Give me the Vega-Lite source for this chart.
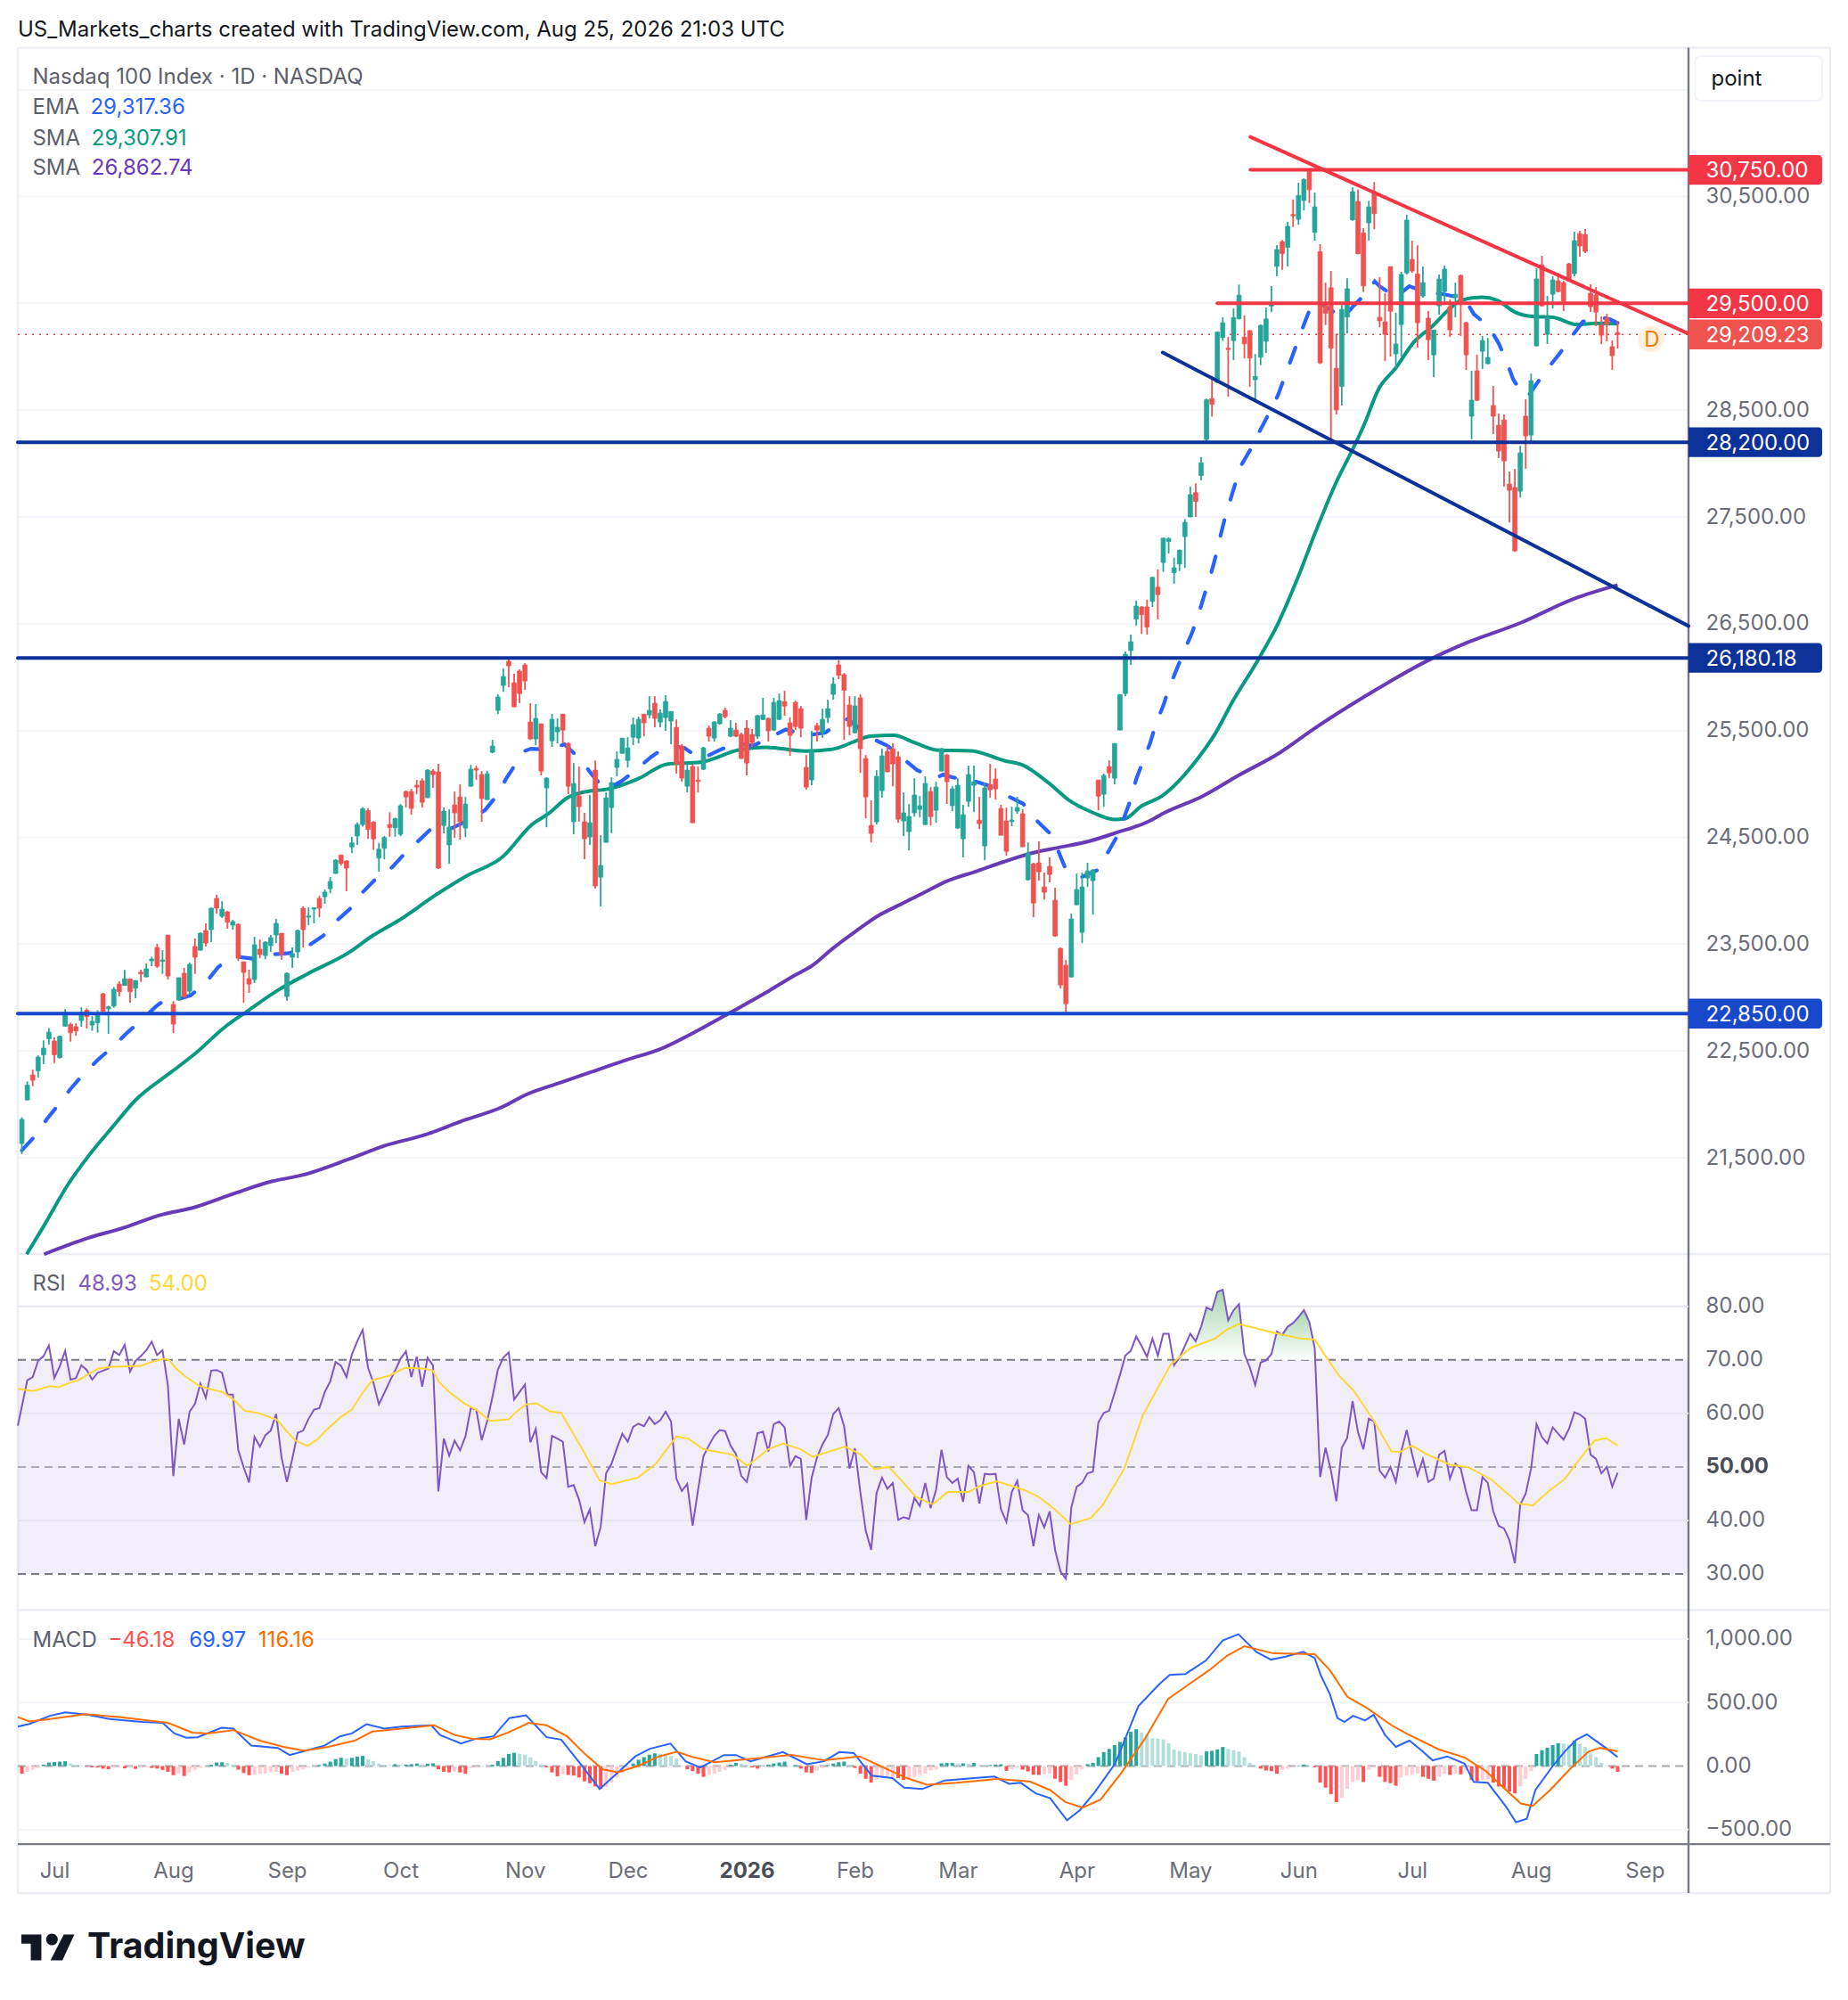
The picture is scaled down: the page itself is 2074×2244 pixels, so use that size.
{
"$schema":"https://vega.github.io/schema/vega-lite/v6.json",
"autosize":{"type":"none"},
"padding":{"left":0,"top":0,"right":179,"bottom":175},
"width":1895,
"height":2069,
"background":"white",
"config":{"view":{"stroke":null},"text":{"font":"Inter"}},
"datasets":{
"candles":[
{"k":-6,"o":21633,"h":21880,"l":21534,"c":21859},{"k":-5,"o":22042,"h":22215,"l":22035,"c":22181},{"k":-4,"o":22276,"h":22326,"l":22170,"c":22226},{"k":-3,"o":22315,"h":22459,"l":22251,"c":22443},{"k":-2,"o":22465,"h":22599,"l":22376,"c":22526},{"k":-1,"o":22615,"h":22715,"l":22560,"c":22676},
{"k":0,"o":22593,"h":22626,"l":22387,"c":22465},{"k":1,"o":22437,"h":22643,"l":22430,"c":22637},{"k":2,"o":22732,"h":22893,"l":22727,"c":22860},{"k":3,"o":22749,"h":22765,"l":22587,"c":22671},{"k":4,"o":22727,"h":22760,"l":22643,"c":22688},{"k":5,"o":22785,"h":22910,"l":22727,"c":22860},{"k":6,"o":22882,"h":22899,"l":22710,"c":22821},{"k":7,"o":22743,"h":22827,"l":22688,"c":22777},{"k":8,"o":22765,"h":22882,"l":22671,"c":22855},{"k":9,"o":23035,"h":23044,"l":22868,"c":22871},
{"k":10,"o":22896,"h":22924,"l":22660,"c":22913},{"k":11,"o":22921,"h":23099,"l":22905,"c":23077},{"k":12,"o":23127,"h":23152,"l":23010,"c":23055},{"k":13,"o":23113,"h":23258,"l":23110,"c":23177},{"k":14,"o":23174,"h":23180,"l":22952,"c":23055},{"k":15,"o":23088,"h":23161,"l":22994,"c":23160},{"k":16,"o":23238,"h":23261,"l":23147,"c":23222},{"k":17,"o":23194,"h":23319,"l":23188,"c":23269},{"k":18,"o":23344,"h":23383,"l":23294,"c":23361},{"k":19,"o":23469,"h":23503,"l":23277,"c":23294},
{"k":20,"o":23339,"h":23444,"l":23222,"c":23352},{"k":21,"o":23585,"h":23586,"l":23169,"c":23202},{"k":22,"o":22935,"h":22966,"l":22668,"c":22752},{"k":23,"o":22977,"h":23188,"l":22971,"c":23186},{"k":24,"o":23227,"h":23277,"l":23000,"c":23005},{"k":25,"o":23060,"h":23327,"l":23027,"c":23311},{"k":26,"o":23478,"h":23553,"l":23222,"c":23378},{"k":27,"o":23444,"h":23611,"l":23439,"c":23603},{"k":28,"o":23628,"h":23695,"l":23478,"c":23511},{"k":29,"o":23636,"h":23842,"l":23519,"c":23837},
{"k":30,"o":23928,"h":23962,"l":23786,"c":23837},{"k":31,"o":23761,"h":23903,"l":23745,"c":23828},{"k":32,"o":23803,"h":23812,"l":23645,"c":23706},{"k":33,"o":23678,"h":23728,"l":23636,"c":23711},{"k":34,"o":23686,"h":23695,"l":23344,"c":23369},{"k":35,"o":23335,"h":23336,"l":22952,"c":23236},{"k":36,"o":23177,"h":23261,"l":23044,"c":23127},{"k":37,"o":23169,"h":23570,"l":23136,"c":23494},{"k":38,"o":23453,"h":23544,"l":23369,"c":23403},{"k":39,"o":23394,"h":23528,"l":23361,"c":23519},
{"k":40,"o":23486,"h":23586,"l":23428,"c":23561},{"k":41,"o":23586,"h":23736,"l":23511,"c":23695},{"k":42,"o":23602,"h":23603,"l":23353,"c":23403},{"k":43,"o":23010,"h":23236,"l":22969,"c":23227},{"k":44,"o":23378,"h":23469,"l":23277,"c":23411},{"k":45,"o":23428,"h":23636,"l":23369,"c":23628},{"k":46,"o":23837,"h":23853,"l":23469,"c":23636},{"k":47,"o":23753,"h":23845,"l":23678,"c":23764},{"k":48,"o":23828,"h":23842,"l":23695,"c":23841},{"k":49,"o":23928,"h":23953,"l":23753,"c":23837},
{"k":50,"o":23945,"h":24012,"l":23878,"c":23987},{"k":51,"o":24020,"h":24129,"l":23978,"c":24087},{"k":52,"o":24162,"h":24296,"l":24160,"c":24287},{"k":53,"o":24333,"h":24340,"l":24237,"c":24256},{"k":54,"o":24279,"h":24287,"l":23995,"c":24212},{"k":55,"o":24410,"h":24505,"l":24352,"c":24448},{"k":56,"o":24513,"h":24640,"l":24430,"c":24620},{"k":57,"o":24620,"h":24781,"l":24601,"c":24766},{"k":58,"o":24751,"h":24773,"l":24486,"c":24574},{"k":59,"o":24643,"h":24651,"l":24383,"c":24486},
{"k":60,"o":24306,"h":24448,"l":24180,"c":24390},{"k":61,"o":24398,"h":24513,"l":24295,"c":24498},{"k":62,"o":24620,"h":24735,"l":24505,"c":24593},{"k":63,"o":24590,"h":24684,"l":24506,"c":24676},{"k":64,"o":24529,"h":24812,"l":24512,"c":24796},{"k":65,"o":24929,"h":24938,"l":24779,"c":24879},{"k":66,"o":24929,"h":24954,"l":24712,"c":24771},{"k":67,"o":24988,"h":25038,"l":24904,"c":24971},{"k":68,"o":25030,"h":25052,"l":24779,"c":24829},{"k":69,"o":24871,"h":25138,"l":24870,"c":25130},
{"k":70,"o":25121,"h":25138,"l":24963,"c":25088},{"k":71,"o":25113,"h":25188,"l":24203,"c":24212},{"k":72,"o":24612,"h":24779,"l":24537,"c":24746},{"k":73,"o":24429,"h":24762,"l":24253,"c":24595},{"k":74,"o":24804,"h":24929,"l":24495,"c":24729},{"k":75,"o":24879,"h":24996,"l":24479,"c":24646},{"k":76,"o":24587,"h":24879,"l":24504,"c":24812},{"k":77,"o":24979,"h":25180,"l":24975,"c":25138},{"k":78,"o":25146,"h":25171,"l":25038,"c":25130},{"k":79,"o":25088,"h":25121,"l":24646,"c":24863},
{"k":80,"o":24854,"h":25121,"l":24850,"c":25096},{"k":81,"o":25297,"h":25413,"l":25288,"c":25355},{"k":82,"o":25689,"h":25839,"l":25655,"c":25814},{"k":83,"o":25923,"h":26081,"l":25864,"c":26006},{"k":84,"o":26148,"h":26181,"l":25906,"c":26106},{"k":85,"o":25948,"h":26031,"l":25720,"c":25722},{"k":86,"o":26056,"h":26073,"l":25756,"c":25847},{"k":87,"o":26114,"h":26131,"l":25881,"c":25964},{"k":88,"o":25580,"h":25756,"l":25413,"c":25422},{"k":89,"o":25422,"h":25747,"l":25363,"c":25614},
{"k":90,"o":25563,"h":25564,"l":25080,"c":25121},{"k":91,"o":24963,"h":25063,"l":24595,"c":25055},{"k":92,"o":25405,"h":25655,"l":25347,"c":25605},{"k":93,"o":25489,"h":25614,"l":25380,"c":25530},{"k":94,"o":25654,"h":25655,"l":25380,"c":25505},{"k":95,"o":25380,"h":25388,"l":24904,"c":24979},{"k":96,"o":24646,"h":25196,"l":24529,"c":25004},{"k":97,"o":24888,"h":25163,"l":24646,"c":24788},{"k":98,"o":24646,"h":24729,"l":24295,"c":24487},{"k":99,"o":24504,"h":24896,"l":24429,"c":24637},
{"k":100,"o":25130,"h":25221,"l":24020,"c":24045},{"k":101,"o":24128,"h":24520,"l":23853,"c":24237},{"k":102,"o":24454,"h":24921,"l":24450,"c":24871},{"k":103,"o":24779,"h":25063,"l":24537,"c":25013},{"k":104,"o":25155,"h":25305,"l":25071,"c":25230},{"k":105,"o":25288,"h":25430,"l":25280,"c":25429},{"k":106,"o":25221,"h":25438,"l":25155,"c":25338},{"k":107,"o":25438,"h":25622,"l":25363,"c":25555},{"k":108,"o":25430,"h":25630,"l":25380,"c":25605},{"k":109,"o":25654,"h":25655,"l":25447,"c":25572},
{"k":110,"o":25647,"h":25822,"l":25614,"c":25689},{"k":111,"o":25756,"h":25822,"l":25530,"c":25614},{"k":112,"o":25580,"h":25697,"l":25530,"c":25664},{"k":113,"o":25622,"h":25831,"l":25497,"c":25772},{"k":114,"o":25589,"h":25680,"l":25372,"c":25679},{"k":115,"o":25530,"h":25605,"l":25096,"c":25188},{"k":116,"o":25355,"h":25372,"l":25021,"c":25055},{"k":117,"o":24979,"h":25188,"l":24921,"c":25130},{"k":118,"o":25163,"h":25188,"l":24635,"c":24637},{"k":119,"o":25036,"h":25163,"l":24921,"c":25024},
{"k":120,"o":25138,"h":25347,"l":25130,"c":25338},{"k":121,"o":25522,"h":25547,"l":25397,"c":25447},{"k":122,"o":25430,"h":25589,"l":25397,"c":25580},{"k":123,"o":25564,"h":25664,"l":25555,"c":25655},{"k":124,"o":25689,"h":25714,"l":25614,"c":25630},{"k":125,"o":25447,"h":25597,"l":25438,"c":25522},{"k":126,"o":25505,"h":25572,"l":25440,"c":25447},{"k":127,"o":25463,"h":25480,"l":25236,"c":25238},{"k":128,"o":25522,"h":25597,"l":25080,"c":25196},{"k":129,"o":25463,"h":25514,"l":25347,"c":25388},
{"k":130,"o":25447,"h":25647,"l":25422,"c":25639},{"k":131,"o":25605,"h":25806,"l":25597,"c":25647},{"k":132,"o":25614,"h":25622,"l":25397,"c":25497},{"k":133,"o":25505,"h":25806,"l":25497,"c":25764},{"k":134,"o":25605,"h":25847,"l":25597,"c":25780},{"k":135,"o":25772,"h":25872,"l":25639,"c":25730},{"k":136,"o":25572,"h":25622,"l":25263,"c":25455},{"k":137,"o":25764,"h":25780,"l":25505,"c":25538},{"k":138,"o":25705,"h":25730,"l":25438,"c":25522},{"k":139,"o":25155,"h":25271,"l":24946,"c":24971},
{"k":140,"o":25038,"h":25497,"l":24988,"c":25321},{"k":141,"o":25547,"h":25572,"l":25397,"c":25505},{"k":142,"o":25480,"h":25705,"l":25430,"c":25605},{"k":143,"o":25622,"h":25789,"l":25572,"c":25705},{"k":144,"o":25839,"h":26000,"l":25789,"c":25935},{"k":145,"o":26115,"h":26161,"l":25981,"c":26019},{"k":146,"o":26023,"h":26038,"l":25413,"c":25877},{"k":147,"o":25739,"h":25822,"l":25455,"c":25538},{"k":148,"o":25480,"h":25822,"l":25472,"c":25730},{"k":149,"o":25806,"h":25839,"l":25104,"c":25330},
{"k":150,"o":25238,"h":25271,"l":24679,"c":24879},{"k":151,"o":24612,"h":24846,"l":24453,"c":24537},{"k":152,"o":24645,"h":25129,"l":24620,"c":25071},{"k":153,"o":24937,"h":25330,"l":24871,"c":25263},{"k":154,"o":25305,"h":25355,"l":25112,"c":25113},{"k":155,"o":25330,"h":25380,"l":24979,"c":25188},{"k":156,"o":25255,"h":25305,"l":24637,"c":24670},{"k":157,"o":24654,"h":24921,"l":24512,"c":24729},{"k":158,"o":24554,"h":24812,"l":24378,"c":24695},{"k":159,"o":24729,"h":25054,"l":24695,"c":24896},
{"k":160,"o":24762,"h":24887,"l":24687,"c":24796},{"k":161,"o":24620,"h":25071,"l":24618,"c":25004},{"k":162,"o":24929,"h":24971,"l":24612,"c":24695},{"k":163,"o":24754,"h":25021,"l":24637,"c":24971},{"k":164,"o":25121,"h":25338,"l":25120,"c":25330},{"k":165,"o":25271,"h":25280,"l":24812,"c":25021},{"k":166,"o":24796,"h":24979,"l":24746,"c":24954},{"k":167,"o":24587,"h":25054,"l":24579,"c":24988},{"k":168,"o":24487,"h":24804,"l":24312,"c":24712},{"k":169,"o":24837,"h":25171,"l":24787,"c":25088},
{"k":170,"o":24988,"h":25171,"l":24737,"c":25021},{"k":171,"o":24662,"h":24879,"l":24579,"c":24629},{"k":172,"o":24420,"h":25013,"l":24287,"c":24963},{"k":173,"o":24996,"h":25188,"l":24871,"c":24946},{"k":174,"o":25046,"h":25146,"l":24854,"c":24954},{"k":175,"o":24771,"h":24804,"l":24518,"c":24520},{"k":176,"o":24654,"h":24779,"l":24328,"c":24370},{"k":177,"o":24648,"h":24787,"l":24604,"c":24662},{"k":178,"o":24746,"h":24879,"l":24721,"c":24779},{"k":179,"o":24721,"h":24762,"l":24410,"c":24412},
{"k":180,"o":24103,"h":24453,"l":24095,"c":24353},{"k":181,"o":24253,"h":24262,"l":23752,"c":23886},{"k":182,"o":24262,"h":24462,"l":24095,"c":24178},{"k":183,"o":24036,"h":24170,"l":23919,"c":23986},{"k":184,"o":24228,"h":24312,"l":24078,"c":24153},{"k":185,"o":23911,"h":24028,"l":23569,"c":23577},{"k":186,"o":23460,"h":23469,"l":23085,"c":23118},{"k":187,"o":23302,"h":23352,"l":22834,"c":22943},{"k":188,"o":23193,"h":23786,"l":23190,"c":23736},{"k":189,"o":23869,"h":24161,"l":23866,"c":24011},
{"k":190,"o":23611,"h":24170,"l":23510,"c":24036},{"k":191,"o":24120,"h":24262,"l":24036,"c":24186},{"k":192,"o":24095,"h":24203,"l":23777,"c":24195},{"k":193,"o":25037,"h":25038,"l":24754,"c":24887},{"k":194,"o":24904,"h":25096,"l":24787,"c":25079},{"k":195,"o":25163,"h":25221,"l":25054,"c":25104},{"k":196,"o":25054,"h":25380,"l":24996,"c":25379},{"k":197,"o":25505,"h":25839,"l":25503,"c":25838},{"k":198,"o":25847,"h":26240,"l":25820,"c":26215},{"k":199,"o":26249,"h":26398,"l":26115,"c":26332},
{"k":200,"o":26544,"h":26717,"l":26484,"c":26666},{"k":201,"o":26657,"h":26666,"l":26407,"c":26585},{"k":202,"o":26657,"h":26726,"l":26398,"c":26469},{"k":203,"o":26711,"h":26940,"l":26657,"c":26934},{"k":204,"o":26842,"h":27009,"l":26541,"c":26773},{"k":205,"o":27074,"h":27307,"l":26985,"c":27301},{"k":206,"o":27271,"h":27310,"l":27158,"c":27298},{"k":207,"o":26979,"h":27119,"l":26875,"c":27024},{"k":208,"o":27059,"h":27196,"l":26994,"c":27188},{"k":209,"o":27316,"h":27480,"l":27024,"c":27450},
{"k":210,"o":27500,"h":27784,"l":27498,"c":27709},{"k":211,"o":27727,"h":27816,"l":27500,"c":27646},{"k":212,"o":27888,"h":28061,"l":27843,"c":28007},{"k":213,"o":28225,"h":28609,"l":28210,"c":28597},{"k":214,"o":28609,"h":28821,"l":28439,"c":28555},{"k":215,"o":28761,"h":29232,"l":28752,"c":29231},{"k":216,"o":29181,"h":29369,"l":29148,"c":29318},{"k":217,"o":29080,"h":29187,"l":28627,"c":29068},{"k":218,"o":29151,"h":29452,"l":28970,"c":29366},{"k":219,"o":29357,"h":29676,"l":29348,"c":29577},
{"k":220,"o":29184,"h":29387,"l":28984,"c":29122},{"k":221,"o":29244,"h":29250,"l":28719,"c":28987},{"k":222,"o":28785,"h":29026,"l":28573,"c":28815},{"k":223,"o":28996,"h":29303,"l":28922,"c":29294},{"k":224,"o":29145,"h":29461,"l":29035,"c":29354},{"k":225,"o":29473,"h":29661,"l":29420,"c":29488},{"k":226,"o":29846,"h":30045,"l":29753,"c":30004},{"k":227,"o":30078,"h":30093,"l":29813,"c":29965},{"k":228,"o":30024,"h":30263,"l":29846,"c":30221},{"k":229,"o":30331,"h":30471,"l":30215,"c":30319},
{"k":230,"o":30287,"h":30629,"l":30236,"c":30510},{"k":231,"o":30463,"h":30671,"l":30370,"c":30659},{"k":232,"o":30749,"h":30764,"l":30439,"c":30564},{"k":233,"o":30164,"h":30537,"l":30087,"c":30403},{"k":234,"o":29983,"h":30054,"l":28931,"c":28943},{"k":235,"o":29482,"h":29694,"l":29297,"c":29408},{"k":236,"o":29646,"h":29804,"l":28192,"c":29080},{"k":237,"o":28892,"h":29217,"l":28460,"c":28502},{"k":238,"o":28722,"h":29506,"l":28543,"c":29443},{"k":239,"o":29372,"h":29735,"l":29220,"c":29637},
{"k":240,"o":30281,"h":30585,"l":30272,"c":30546},{"k":241,"o":30454,"h":30564,"l":29959,"c":29965},{"k":242,"o":30159,"h":30203,"l":29607,"c":29664},{"k":243,"o":30254,"h":30460,"l":30087,"c":30403},{"k":244,"o":30546,"h":30635,"l":30194,"c":30340},{"k":245,"o":29369,"h":29745,"l":29277,"c":29336},{"k":246,"o":29327,"h":29594,"l":28960,"c":29210},{"k":247,"o":29844,"h":29845,"l":29002,"c":29427},{"k":248,"o":29027,"h":29411,"l":28890,"c":29119},{"k":249,"o":29302,"h":29795,"l":29002,"c":29770},
{"k":250,"o":29786,"h":30329,"l":29770,"c":30279},{"k":251,"o":29911,"h":30087,"l":29786,"c":29803},{"k":252,"o":29775,"h":30045,"l":29085,"c":29319},{"k":253,"o":29569,"h":29845,"l":29553,"c":29694},{"k":254,"o":29361,"h":29427,"l":28968,"c":29160},{"k":255,"o":29018,"h":29252,"l":28810,"c":29251},{"k":256,"o":29477,"h":29770,"l":29394,"c":29728},{"k":257,"o":29611,"h":29853,"l":29486,"c":29820},{"k":258,"o":29469,"h":29536,"l":29185,"c":29252},{"k":259,"o":29553,"h":29694,"l":29369,"c":29586},
{"k":260,"o":29761,"h":29770,"l":29194,"c":29494},{"k":261,"o":29319,"h":29327,"l":28877,"c":29018},{"k":262,"o":28443,"h":28868,"l":28226,"c":28593},{"k":263,"o":28868,"h":29018,"l":28584,"c":28593},{"k":264,"o":29052,"h":29194,"l":28885,"c":29152},{"k":265,"o":28935,"h":29177,"l":28930,"c":28993},{"k":266,"o":28543,"h":28726,"l":28276,"c":28443},{"k":267,"o":28359,"h":28468,"l":28050,"c":28117},{"k":268,"o":28409,"h":28459,"l":27783,"c":28025},{"k":269,"o":27808,"h":27925,"l":27449,"c":27750},
{"k":270,"o":27775,"h":27950,"l":27174,"c":27182},{"k":271,"o":27741,"h":28167,"l":27683,"c":28100},{"k":272,"o":28443,"h":28601,"l":27950,"c":28259},{"k":273,"o":28267,"h":28843,"l":28192,"c":28776},{"k":274,"o":29102,"h":29828,"l":29097,"c":29728},{"k":275,"o":29861,"h":29945,"l":29469,"c":29477},{"k":276,"o":29210,"h":29569,"l":29119,"c":29369},{"k":277,"o":29586,"h":29753,"l":29452,"c":29719},{"k":278,"o":29711,"h":29786,"l":29603,"c":29611},{"k":279,"o":29694,"h":29711,"l":29427,"c":29519},
{"k":280,"o":29870,"h":29878,"l":29722,"c":29728},{"k":281,"o":29778,"h":30170,"l":29753,"c":30087},{"k":282,"o":30153,"h":30179,"l":29937,"c":30037},{"k":283,"o":30145,"h":30195,"l":29970,"c":29987},{"k":284,"o":29594,"h":29678,"l":29419,"c":29469},{"k":285,"o":29578,"h":29653,"l":29286,"c":29419},{"k":286,"o":29294,"h":29377,"l":29119,"c":29202},{"k":287,"o":29361,"h":29402,"l":29144,"c":29302},{"k":288,"o":29094,"h":29152,"l":28877,"c":29010},{"k":289,"o":29225,"h":29336,"l":29077,"c":29209}
],
"ema":[{"k":-6,"p":21570},{"k":-3.7,"p":21696},{"k":-1.3,"p":21867},{"k":0.8,"p":22000},{"k":3,"p":22145},{"k":5.4,"p":22284},{"k":8,"p":22415},{"k":10.7,"p":22535},{"k":13.4,"p":22668},{"k":16,"p":22785},{"k":18.8,"p":22918},{"k":20.7,"p":22988},{"k":21.8,"p":22966},{"k":25.2,"p":23021},{"k":27.9,"p":23133},{"k":30.3,"p":23286},{"k":32.9,"p":23389},{"k":36.6,"p":23364},{"k":40,"p":23403},{"k":43.5,"p":23417},{"k":46.6,"p":23472},{"k":49.8,"p":23583},{"k":52,"p":23711},{"k":54.9,"p":23842},{"k":56.9,"p":23981},{"k":59.6,"p":24120},{"k":62.4,"p":24218},{"k":64.9,"p":24356},{"k":67.5,"p":24476},{"k":70.1,"p":24601},{"k":73.4,"p":24584},{"k":76.8,"p":24668},{"k":79.6,"p":24754},{"k":82,"p":24904},{"k":83.6,"p":25057},{"k":85.7,"p":25219},{"k":86.9,"p":25308},{"k":88.1,"p":25330},{"k":91.5,"p":25322},{"k":94.3,"p":25372},{"k":97.4,"p":25224},{"k":99.3,"p":25093},{"k":101.8,"p":24946},{"k":104.8,"p":25024},{"k":107.6,"p":25135},{"k":110.3,"p":25252},{"k":113.4,"p":25363},{"k":116.5,"p":25336},{"k":119.5,"p":25233},{"k":122.6,"p":25308},{"k":126,"p":25386},{"k":129.2,"p":25358},{"k":132.7,"p":25447},{"k":135.2,"p":25510},{"k":139.3,"p":25455},{"k":142.6,"p":25483},{"k":145.5,"p":25594},{"k":146.7,"p":25608},{"k":150.8,"p":25435},{"k":154,"p":25358},{"k":156.8,"p":25241},{"k":159.5,"p":25129},{"k":163,"p":25057},{"k":164.3,"p":25088},{"k":166.2,"p":25060},{"k":169.8,"p":25032},{"k":172.5,"p":24988},{"k":176,"p":24893},{"k":179.1,"p":24815},{"k":181.4,"p":24668},{"k":183.9,"p":24545},{"k":185.5,"p":24384},{"k":186.9,"p":24211},{"k":189.8,"p":24125},{"k":192.9,"p":24195},{"k":194.8,"p":24362},{"k":196.6,"p":24523},{"k":197.8,"p":24690},{"k":199,"p":24857},{"k":200,"p":25046},{"k":201.2,"p":25205},{"k":202.6,"p":25387},{"k":203.6,"p":25559},{"k":205,"p":25732},{"k":206.1,"p":25904},{"k":207.5,"p":26076},{"k":208.8,"p":26237},{"k":210.3,"p":26413},{"k":211.5,"p":26583},{"k":212.6,"p":26770},{"k":213.6,"p":26928},{"k":214.6,"p":27113},{"k":215.4,"p":27286},{"k":216.3,"p":27471},{"k":217.3,"p":27643},{"k":218.4,"p":27828},{"k":219.5,"p":27992},{"k":221.4,"p":28156},{"k":222.9,"p":28311},{"k":224.7,"p":28484},{"k":226.2,"p":28639},{"k":227.5,"p":28818},{"k":228.7,"p":28984},{"k":230,"p":29163},{"k":231.2,"p":29327},{"k":232.4,"p":29482},{"k":233.1,"p":29542},{"k":233.8,"p":29506},{"k":235.1,"p":29467},{"k":238.2,"p":29363},{"k":240,"p":29467},{"k":242.6,"p":29600},{"k":244.1,"p":29706},{"k":245,"p":29660},{"k":248,"p":29558},{"k":250.5,"p":29661},{"k":253.8,"p":29600},{"k":256.8,"p":29586},{"k":260.7,"p":29544},{"k":262.4,"p":29400},{"k":265.2,"p":29280},{"k":267,"p":29127},{"k":268.5,"p":28954},{"k":269.7,"p":28787},{"k":271.7,"p":28632},{"k":272.5,"p":28634},{"k":274,"p":28746},{"k":276.2,"p":28899},{"k":278.4,"p":29038},{"k":280.6,"p":29196},{"k":282.6,"p":29330},{"k":286,"p":29369},{"k":287.6,"p":29350},{"k":289,"p":29317}],
"sma50":[{"k":-5.1,"p":20597},{"k":-1.9,"p":20865},{"k":2.5,"p":21248},{"k":6.3,"p":21516},{"k":10.7,"p":21785},{"k":15.1,"p":22045},{"k":21.6,"p":22302},{"k":26,"p":22474},{"k":31.5,"p":22723},{"k":35.8,"p":22877},{"k":41.3,"p":23068},{"k":46.8,"p":23222},{"k":54.4,"p":23421},{"k":58.8,"p":23578},{"k":64.2,"p":23739},{"k":70.2,"p":23950},{"k":76.3,"p":24141},{"k":82.8,"p":24314},{"k":88.3,"p":24620},{"k":91.5,"p":24728},{"k":94.8,"p":24869},{"k":98.1,"p":24927},{"k":102.5,"p":24954},{"k":108,"p":25050},{"k":113.4,"p":25187},{"k":119.4,"p":25203},{"k":126.5,"p":25318},{"k":131.6,"p":25344},{"k":138.8,"p":25308},{"k":143.7,"p":25324},{"k":148.7,"p":25413},{"k":150.8,"p":25447},{"k":155.2,"p":25455},{"k":159.1,"p":25385},{"k":163.5,"p":25316},{"k":169.5,"p":25310},{"k":175.6,"p":25218},{"k":179,"p":25177},{"k":183.8,"p":25010},{"k":187.7,"p":24843},{"k":192,"p":24732},{"k":195.9,"p":24668},{"k":198,"p":24676},{"k":200.8,"p":24787},{"k":204.8,"p":24889},{"k":211.3,"p":25233},{"k":214.5,"p":25463},{"k":217.8,"p":25770},{"k":222.6,"p":26168},{"k":226.2,"p":26500},{"k":229.9,"p":26934},{"k":233.2,"p":27366},{"k":237,"p":27828},{"k":239.8,"p":28111},{"k":242,"p":28348},{"k":244.8,"p":28696},{"k":248,"p":28896},{"k":251.4,"p":29141},{"k":254.6,"p":29280},{"k":257.9,"p":29447},{"k":260.1,"p":29530},{"k":263.9,"p":29558},{"k":266.7,"p":29530},{"k":270,"p":29419},{"k":273.3,"p":29377},{"k":277,"p":29369},{"k":281.5,"p":29302},{"k":284.9,"p":29313},{"k":289,"p":29308}],
"sma200":[{"k":-1.9,"p":20597},{"k":6.3,"p":20750},{"k":12.9,"p":20846},{"k":19.4,"p":20961},{"k":26,"p":21037},{"k":33.6,"p":21172},{"k":40.2,"p":21279},{"k":45.7,"p":21336},{"k":54.4,"p":21486},{"k":61,"p":21612},{"k":68.6,"p":21716},{"k":75.2,"p":21842},{"k":82.8,"p":21976},{"k":87.2,"p":22091},{"k":93.7,"p":22206},{"k":99.2,"p":22302},{"k":105.8,"p":22417},{"k":111.8,"p":22513},{"k":119.4,"p":22704},{"k":124.9,"p":22858},{"k":131.6,"p":23048},{"k":136.6,"p":23201},{"k":140.1,"p":23299},{"k":143.7,"p":23452},{"k":148.1,"p":23619},{"k":152.5,"p":23772},{"k":156.3,"p":23869},{"k":160.7,"p":23981},{"k":165.1,"p":24092},{"k":170.6,"p":24184},{"k":175.6,"p":24273},{"k":181,"p":24356},{"k":185.5,"p":24403},{"k":191.5,"p":24467},{"k":196.4,"p":24545},{"k":202.5,"p":24654},{"k":204.8,"p":24720},{"k":212.4,"p":24889},{"k":218.9,"p":25080},{"k":226.5,"p":25291},{"k":233,"p":25521},{"k":243.8,"p":25866},{"k":253.5,"p":26145},{"k":261.3,"p":26326},{"k":271,"p":26507},{"k":280.8,"p":26732},{"k":289,"p":26863}],
"rsi":[{"k":-6.75,"v":57.7},{"k":-6,"v":61.3},{"k":-5,"v":66.2},{"k":-4,"v":66.8},{"k":-3,"v":69.8},{"k":-2,"v":70.7},{"k":-1,"v":72.7},{"k":0,"v":66.6},{"k":1,"v":68.8},{"k":2,"v":71.7},{"k":3,"v":66.3},{"k":4,"v":66.6},{"k":5,"v":69},{"k":6,"v":68.1},{"k":7,"v":66.3},{"k":8,"v":67.6},{"k":9,"v":68},{"k":10,"v":68.4},{"k":11,"v":71.6},{"k":12,"v":70.9},{"k":13,"v":72.8},{"k":14,"v":67.8},{"k":15,"v":69.8},{"k":16,"v":70.7},{"k":17,"v":71.8},{"k":18,"v":73.4},{"k":19,"v":70.9},{"k":20,"v":71.8},{"k":21,"v":65.2},{"k":22,"v":48.3},{"k":23,"v":59},{"k":24,"v":54.2},{"k":25,"v":60.3},{"k":26,"v":61.8},{"k":27,"v":65.6},{"k":28,"v":62.9},{"k":29,"v":68},{"k":30,"v":68.1},{"k":31,"v":67.6},{"k":32,"v":63.5},{"k":33,"v":63.5},{"k":34,"v":53.2},{"k":35,"v":49.9},{"k":36,"v":47.1},{"k":37,"v":55.6},{"k":38,"v":53.8},{"k":39,"v":55.9},{"k":40,"v":56.8},{"k":41,"v":59.9},{"k":42,"v":51.8},{"k":43,"v":47.2},{"k":44,"v":51.6},{"k":45,"v":56.4},{"k":46,"v":56.8},{"k":47,"v":59},{"k":48,"v":60.7},{"k":49,"v":61},{"k":50,"v":64},{"k":51,"v":66},{"k":52,"v":69.6},{"k":53,"v":68.9},{"k":54,"v":66.8},{"k":55,"v":71},{"k":56,"v":73.5},{"k":57,"v":75.6},{"k":58,"v":68.5},{"k":59,"v":65.7},{"k":60,"v":61.7},{"k":61,"v":63.8},{"k":62,"v":66},{"k":63,"v":68},{"k":64,"v":70.2},{"k":65,"v":71.6},{"k":66,"v":66.8},{"k":67,"v":70.6},{"k":68,"v":65},{"k":69,"v":70.4},{"k":70,"v":69},{"k":71,"v":45.4},{"k":72,"v":55.3},{"k":73,"v":52.1},{"k":74,"v":54.9},{"k":75,"v":53.1},{"k":76,"v":55.7},{"k":77,"v":61},{"k":78,"v":60.7},{"k":79,"v":55},{"k":80,"v":58.5},{"k":81,"v":63.1},{"k":82,"v":68.2},{"k":83,"v":70.4},{"k":84,"v":71.4},{"k":85,"v":62.6},{"k":86,"v":64},{"k":87,"v":65.4},{"k":88,"v":54.6},{"k":89,"v":57.1},{"k":90,"v":49},{"k":91,"v":47.9},{"k":92,"v":55.8},{"k":93,"v":55.3},{"k":94,"v":54.7},{"k":95,"v":46.3},{"k":96,"v":46.6},{"k":97,"v":43.9},{"k":98,"v":39.7},{"k":99,"v":42.1},{"k":100,"v":35.2},{"k":101,"v":38.8},{"k":102,"v":48.8},{"k":103,"v":50.6},{"k":104,"v":53.5},{"k":105,"v":56.2},{"k":106,"v":54.7},{"k":107,"v":57.5},{"k":108,"v":58.1},{"k":109,"v":57.6},{"k":110,"v":59.3},{"k":111,"v":58},{"k":112,"v":58.7},{"k":113,"v":60.3},{"k":114,"v":58.5},{"k":115,"v":47.8},{"k":116,"v":45.5},{"k":117,"v":46.8},{"k":118,"v":39},{"k":119,"v":45.7},{"k":120,"v":52},{"k":121,"v":54},{"k":122,"v":55.8},{"k":123,"v":56.9},{"k":124,"v":56.7},{"k":125,"v":54},{"k":126,"v":52.4},{"k":127,"v":48.3},{"k":128,"v":47.2},{"k":129,"v":51.5},{"k":130,"v":56.3},{"k":131,"v":56.6},{"k":132,"v":52.9},{"k":133,"v":58},{"k":134,"v":58.5},{"k":135,"v":57.4},{"k":136,"v":50.2},{"k":137,"v":52},{"k":138,"v":51.5},{"k":139,"v":40.1},{"k":140,"v":48},{"k":141,"v":51.8},{"k":142,"v":54.2},{"k":143,"v":56},{"k":144,"v":59.9},{"k":145,"v":61},{"k":146,"v":57.6},{"k":147,"v":49.7},{"k":148,"v":53.5},{"k":149,"v":45.3},{"k":150,"v":38.1},{"k":151,"v":34.5},{"k":152,"v":45.1},{"k":153,"v":48},{"k":154,"v":45.9},{"k":155,"v":47},{"k":156,"v":40.1},{"k":157,"v":40.6},{"k":158,"v":40.3},{"k":159,"v":44.2},{"k":160,"v":42.7},{"k":161,"v":47},{"k":162,"v":42.3},{"k":163,"v":45.7},{"k":164,"v":53.2},{"k":165,"v":48.1},{"k":166,"v":47},{"k":167,"v":47.8},{"k":168,"v":43.5},{"k":169,"v":50.2},{"k":170,"v":49},{"k":171,"v":43.2},{"k":172,"v":48.7},{"k":173,"v":48.6},{"k":174,"v":48.7},{"k":175,"v":42.1},{"k":176,"v":39.7},{"k":177,"v":45.3},{"k":178,"v":47.4},{"k":179,"v":41.9},{"k":180,"v":41},{"k":181,"v":35.2},{"k":182,"v":41},{"k":183,"v":38.7},{"k":184,"v":41.7},{"k":185,"v":34.5},{"k":186,"v":30.5},{"k":187,"v":29.1},{"k":188,"v":42.4},{"k":189,"v":46.3},{"k":190,"v":47},{"k":191,"v":48.8},{"k":192,"v":49.1},{"k":193,"v":58.3},{"k":194,"v":60.1},{"k":195,"v":60.5},{"k":196,"v":63.8},{"k":197,"v":67.2},{"k":198,"v":70.8},{"k":199,"v":71.7},{"k":200,"v":74.4},{"k":201,"v":72.6},{"k":202,"v":70.6},{"k":203,"v":74},{"k":204,"v":70.8},{"k":205,"v":74.9},{"k":206,"v":74.9},{"k":207,"v":69},{"k":208,"v":70.4},{"k":209,"v":72.6},{"k":210,"v":74.9},{"k":211,"v":73.5},{"k":212,"v":76.2},{"k":213,"v":79.8},{"k":214,"v":79.3},{"k":215,"v":82.7},{"k":216,"v":83.1},{"k":217,"v":77.4},{"k":218,"v":79.3},{"k":219,"v":80.4},{"k":220,"v":71.1},{"k":221,"v":68.6},{"k":222,"v":65.3},{"k":223,"v":69.5},{"k":224,"v":69.9},{"k":225,"v":71.1},{"k":226,"v":75.3},{"k":227,"v":74.7},{"k":228,"v":76.2},{"k":229,"v":76.9},{"k":230,"v":78},{"k":231,"v":79.3},{"k":232,"v":77.1},{"k":233,"v":72.2},{"k":234,"v":48.1},{"k":235,"v":53.6},{"k":236,"v":49.3},{"k":237,"v":43.6},{"k":238,"v":53.6},{"k":239,"v":55.4},{"k":240,"v":62.3},{"k":241,"v":56.5},{"k":242,"v":53.3},{"k":243,"v":59},{"k":244,"v":58.5},{"k":245,"v":49.3},{"k":246,"v":48},{"k":247,"v":50},{"k":248,"v":47.2},{"k":249,"v":52.9},{"k":250,"v":56.9},{"k":251,"v":52.4},{"k":252,"v":48.4},{"k":253,"v":51.5},{"k":254,"v":47.2},{"k":255,"v":47.8},{"k":256,"v":52.3},{"k":257,"v":53},{"k":258,"v":47.8},{"k":259,"v":50.6},{"k":260,"v":49.7},{"k":261,"v":45.3},{"k":262,"v":41.9},{"k":263,"v":41.9},{"k":264,"v":48.1},{"k":265,"v":47},{"k":266,"v":41.7},{"k":267,"v":39},{"k":268,"v":38.5},{"k":269,"v":36.3},{"k":270,"v":32},{"k":271,"v":43},{"k":272,"v":45},{"k":273,"v":49.7},{"k":274,"v":58},{"k":275,"v":55.6},{"k":276,"v":54.4},{"k":277,"v":57.4},{"k":278,"v":56.2},{"k":279,"v":55.1},{"k":280,"v":57.1},{"k":281,"v":60.2},{"k":282,"v":59.8},{"k":283,"v":59},{"k":284,"v":52.3},{"k":285,"v":51.5},{"k":286,"v":48.8},{"k":287,"v":50},{"k":288,"v":46.3},{"k":289,"v":48.93}],
"rsima":[{"k":-6.75,"v":64.6},{"k":-3.9,"v":64.2},{"k":-0.8,"v":65.1},{"k":0.8,"v":64.9},{"k":3.3,"v":65.9},{"k":4.3,"v":66.1},{"k":8.1,"v":68.4},{"k":10.9,"v":68.7},{"k":16,"v":68.9},{"k":18.2,"v":69.7},{"k":20.4,"v":70.2},{"k":21.3,"v":69.9},{"k":22.3,"v":68.6},{"k":24.1,"v":67},{"k":26.7,"v":65.2},{"k":28.6,"v":64.6},{"k":31.1,"v":64},{"k":33,"v":62.7},{"k":35.2,"v":60.5},{"k":38,"v":60},{"k":41.2,"v":58.8},{"k":43,"v":56.6},{"k":44.6,"v":54.9},{"k":46.8,"v":53.9},{"k":48.7,"v":55.2},{"k":50,"v":56.6},{"k":52.8,"v":59.2},{"k":55,"v":60.7},{"k":57.3,"v":64.3},{"k":58.8,"v":66.2},{"k":62,"v":67.1},{"k":64.8,"v":68.5},{"k":68.3,"v":68.4},{"k":70,"v":68},{"k":71.1,"v":65.9},{"k":73,"v":64},{"k":75.9,"v":61.8},{"k":78,"v":60.7},{"k":80.6,"v":58.6},{"k":84,"v":58.9},{"k":85.3,"v":60.2},{"k":87.2,"v":61.7},{"k":89.1,"v":61.9},{"k":91.6,"v":60.4},{"k":93.7,"v":60.1},{"k":97.6,"v":53.3},{"k":100.8,"v":47.5},{"k":103,"v":46.8},{"k":107.9,"v":48},{"k":111.2,"v":50.6},{"k":115,"v":55.7},{"k":117.2,"v":55.3},{"k":120,"v":53.3},{"k":125.4,"v":52.3},{"k":128.1,"v":50.2},{"k":132,"v":53.3},{"k":134.7,"v":54.4},{"k":138,"v":53.3},{"k":140.2,"v":51.9},{"k":146.2,"v":53.8},{"k":149,"v":52.4},{"k":151.6,"v":49.6},{"k":154.3,"v":50},{"k":157,"v":47},{"k":159.3,"v":44.4},{"k":161.2,"v":43.5},{"k":162.4,"v":43},{"k":165.1,"v":45.3},{"k":169,"v":45.3},{"k":171,"v":46.4},{"k":174.3,"v":47.3},{"k":179.3,"v":45.7},{"k":182,"v":44.4},{"k":184.9,"v":42.1},{"k":187.9,"v":39.3},{"k":191.7,"v":40.5},{"k":193.9,"v":43},{"k":197.8,"v":49.7},{"k":201.2,"v":59.6},{"k":206.4,"v":69.2},{"k":210.2,"v":72.3},{"k":214.6,"v":74},{"k":216.7,"v":75.6},{"k":218.9,"v":76.7},{"k":225.4,"v":75.1},{"k":230.3,"v":74},{"k":233,"v":73.8},{"k":235.2,"v":70.4},{"k":237.4,"v":67.2},{"k":240.1,"v":64.4},{"k":243.9,"v":58.7},{"k":247.2,"v":52.9},{"k":248.8,"v":52.8},{"k":251,"v":54},{"k":253.7,"v":52.4},{"k":258,"v":50.4},{"k":261.3,"v":50},{"k":265.6,"v":47.7},{"k":268.9,"v":44.8},{"k":270.6,"v":43.2},{"k":273.3,"v":42.8},{"k":276.5,"v":45.7},{"k":279.2,"v":47.7},{"k":282,"v":51.5},{"k":284.7,"v":54.9},{"k":286.9,"v":55.4},{"k":289,"v":54}],
"macd":[{"k":-6.75,"v":310},{"k":-4.6,"v":332},{"k":-0.8,"v":396},{"k":2,"v":423},{"k":6.3,"v":404},{"k":10.2,"v":370},{"k":16.2,"v":347},{"k":20,"v":340},{"k":22.2,"v":257},{"k":24.4,"v":223},{"k":26.5,"v":227},{"k":30.9,"v":302},{"k":33.1,"v":295},{"k":36.4,"v":162},{"k":41.3,"v":143},{"k":43.5,"v":87},{"k":46.8,"v":125},{"k":50,"v":162},{"k":52.8,"v":234},{"k":55,"v":257},{"k":57.7,"v":329},{"k":61,"v":295},{"k":64.2,"v":310},{"k":69.7,"v":321},{"k":71.3,"v":245},{"k":75.2,"v":177},{"k":77.9,"v":215},{"k":81.2,"v":234},{"k":84.1,"v":378},{"k":87.2,"v":400},{"k":91,"v":227},{"k":93.7,"v":208},{"k":97.6,"v":0},{"k":100.8,"v":-181},{"k":104,"v":-57},{"k":107.4,"v":76},{"k":110.1,"v":136},{"k":113.9,"v":177},{"k":116.7,"v":38},{"k":119.4,"v":-11},{"k":123.8,"v":87},{"k":126,"v":87},{"k":128.7,"v":38},{"k":134.7,"v":110},{"k":139.1,"v":15},{"k":142.3,"v":38},{"k":145.1,"v":110},{"k":147.8,"v":102},{"k":151.1,"v":-76},{"k":154.9,"v":-94},{"k":157.1,"v":-170},{"k":160.4,"v":-181},{"k":164.6,"v":-113},{"k":170,"v":-94},{"k":173.8,"v":-83},{"k":176.5,"v":-140},{"k":178.7,"v":-132},{"k":181.4,"v":-215},{"k":184.1,"v":-253},{"k":187.2,"v":-427},{"k":189.6,"v":-347},{"k":192.3,"v":-208},{"k":196.1,"v":19},{"k":200.4,"v":472},{"k":204.2,"v":642},{"k":206.2,"v":717},{"k":209.1,"v":725},{"k":212.9,"v":831},{"k":216,"v":989},{"k":218.9,"v":1038},{"k":222.2,"v":899},{"k":224.9,"v":838},{"k":227.6,"v":861},{"k":230.9,"v":899},{"k":233,"v":850},{"k":234.1,"v":717},{"k":235.8,"v":566},{"k":237.2,"v":378},{"k":238.5,"v":347},{"k":240.1,"v":396},{"k":242.3,"v":359},{"k":243.9,"v":404},{"k":246,"v":245},{"k":248,"v":151},{"k":250.5,"v":200},{"k":252.5,"v":132},{"k":254.8,"v":45},{"k":257.5,"v":76},{"k":260.7,"v":19},{"k":262.4,"v":-125},{"k":265,"v":-132},{"k":268.4,"v":-321},{"k":270.2,"v":-442},{"k":272.2,"v":-415},{"k":273.8,"v":-189},{"k":277,"v":0},{"k":279.2,"v":113},{"k":281.4,"v":208},{"k":283.3,"v":249},{"k":286.8,"v":143},{"k":289,"v":70}],
"signal":[{"k":-6.75,"v":385},{"k":-4.6,"v":351},{"k":-0.8,"v":370},{"k":5.8,"v":408},{"k":12.3,"v":385},{"k":21,"v":340},{"k":25.5,"v":264},{"k":28.2,"v":257},{"k":33.1,"v":283},{"k":38,"v":200},{"k":42.4,"v":151},{"k":46.2,"v":121},{"k":50.6,"v":151},{"k":55.5,"v":200},{"k":58.8,"v":272},{"k":64.2,"v":295},{"k":70.2,"v":321},{"k":74,"v":245},{"k":77.3,"v":215},{"k":80.6,"v":211},{"k":83.9,"v":264},{"k":87.7,"v":340},{"k":91,"v":321},{"k":94.8,"v":234},{"k":98.1,"v":94},{"k":101.4,"v":-26},{"k":104.1,"v":-49},{"k":107.9,"v":0},{"k":111.8,"v":76},{"k":115,"v":113},{"k":118.3,"v":68},{"k":122.1,"v":30},{"k":128.7,"v":57},{"k":136.3,"v":87},{"k":142.3,"v":45},{"k":148.9,"v":76},{"k":152.7,"v":0},{"k":157.1,"v":-87},{"k":161.3,"v":-147},{"k":166.8,"v":-132},{"k":174.3,"v":-102},{"k":180.3,"v":-121},{"k":184.1,"v":-189},{"k":186.9,"v":-283},{"k":190.1,"v":-328},{"k":193.4,"v":-264},{"k":197.2,"v":-57},{"k":201.5,"v":208},{"k":205.9,"v":529},{"k":209.7,"v":642},{"k":213.5,"v":755},{"k":216.8,"v":868},{"k":220,"v":944},{"k":225.4,"v":887},{"k":233,"v":880},{"k":235.8,"v":755},{"k":239,"v":547},{"k":242.8,"v":453},{"k":247.2,"v":321},{"k":249.9,"v":257},{"k":255.9,"v":132},{"k":260.7,"v":68},{"k":264.6,"v":-38},{"k":268.4,"v":-189},{"k":271.1,"v":-295},{"k":273.3,"v":-313},{"k":276.5,"v":-189},{"k":280.3,"v":-19},{"k":283.6,"v":113},{"k":285.8,"v":143},{"k":289,"v":116}],
"hist":[{"k":-6,"h":-60},{"k":-5,"h":-45},{"k":-4,"h":-30},{"k":-3,"h":-15},{"k":-2,"h":12},{"k":-1,"h":28},{"k":0,"h":32},{"k":1,"h":35},{"k":2,"h":38},{"k":3,"h":20},{"k":4,"h":10},{"k":5,"h":6},{"k":6,"h":-4},{"k":7,"h":-10},{"k":8,"h":-12},{"k":9,"h":-20},{"k":10,"h":-25},{"k":11,"h":-12},{"k":12,"h":-8},{"k":13,"h":-18},{"k":14,"h":-10},{"k":15,"h":-22},{"k":16,"h":-12},{"k":17,"h":-10},{"k":18,"h":-15},{"k":19,"h":-20},{"k":20,"h":-30},{"k":21,"h":-45},{"k":22,"h":-72},{"k":23,"h":-60},{"k":24,"h":-78},{"k":25,"h":-50},{"k":26,"h":-30},{"k":27,"h":-15},{"k":28,"h":-5},{"k":29,"h":10},{"k":30,"h":28},{"k":31,"h":30},{"k":32,"h":25},{"k":33,"h":12},{"k":34,"h":-28},{"k":35,"h":-55},{"k":36,"h":-72},{"k":37,"h":-70},{"k":38,"h":-60},{"k":39,"h":-58},{"k":40,"h":-50},{"k":41,"h":-45},{"k":42,"h":-60},{"k":43,"h":-72},{"k":44,"h":-45},{"k":45,"h":-35},{"k":46,"h":-25},{"k":47,"h":-12},{"k":48,"h":-5},{"k":49,"h":8},{"k":50,"h":20},{"k":51,"h":35},{"k":52,"h":55},{"k":53,"h":65},{"k":54,"h":60},{"k":55,"h":65},{"k":56,"h":75},{"k":57,"h":80},{"k":58,"h":55},{"k":59,"h":40},{"k":60,"h":20},{"k":61,"h":10},{"k":62,"h":8},{"k":63,"h":15},{"k":64,"h":8},{"k":65,"h":12},{"k":66,"h":15},{"k":67,"h":20},{"k":68,"h":8},{"k":69,"h":18},{"k":70,"h":22},{"k":71,"h":-25},{"k":72,"h":-45},{"k":73,"h":-50},{"k":74,"h":-45},{"k":75,"h":-50},{"k":76,"h":-60},{"k":77,"h":-15},{"k":78,"h":-12},{"k":79,"h":-8},{"k":80,"h":-5},{"k":81,"h":10},{"k":82,"h":40},{"k":83,"h":65},{"k":84,"h":95},{"k":85,"h":105},{"k":86,"h":95},{"k":87,"h":90},{"k":88,"h":70},{"k":89,"h":40},{"k":90,"h":15},{"k":91,"h":-10},{"k":92,"h":-50},{"k":93,"h":-80},{"k":94,"h":-65},{"k":95,"h":-70},{"k":96,"h":-75},{"k":97,"h":-90},{"k":98,"h":-120},{"k":99,"h":-135},{"k":100,"h":-160},{"k":101,"h":-180},{"k":102,"h":-165},{"k":103,"h":-130},{"k":104,"h":-90},{"k":105,"h":-55},{"k":106,"h":-20},{"k":107,"h":20},{"k":108,"h":50},{"k":109,"h":70},{"k":110,"h":90},{"k":111,"h":100},{"k":112,"h":95},{"k":113,"h":90},{"k":114,"h":80},{"k":115,"h":60},{"k":116,"h":5},{"k":117,"h":-25},{"k":118,"h":-40},{"k":119,"h":-60},{"k":120,"h":-85},{"k":121,"h":-70},{"k":122,"h":-60},{"k":123,"h":-45},{"k":124,"h":-30},{"k":125,"h":10},{"k":126,"h":25},{"k":127,"h":20},{"k":128,"h":8},{"k":129,"h":-10},{"k":130,"h":-20},{"k":131,"h":5},{"k":132,"h":12},{"k":133,"h":20},{"k":134,"h":28},{"k":135,"h":35},{"k":136,"h":5},{"k":137,"h":8},{"k":138,"h":-20},{"k":139,"h":-50},{"k":140,"h":-55},{"k":141,"h":-35},{"k":142,"h":-15},{"k":143,"h":8},{"k":144,"h":20},{"k":145,"h":30},{"k":146,"h":35},{"k":147,"h":10},{"k":148,"h":-15},{"k":149,"h":-60},{"k":150,"h":-100},{"k":151,"h":-130},{"k":152,"h":-105},{"k":153,"h":-90},{"k":154,"h":-90},{"k":155,"h":-85},{"k":156,"h":-95},{"k":157,"h":-110},{"k":158,"h":-100},{"k":159,"h":-85},{"k":160,"h":-70},{"k":161,"h":-60},{"k":162,"h":-35},{"k":163,"h":-25},{"k":164,"h":22},{"k":165,"h":24},{"k":166,"h":25},{"k":167,"h":20},{"k":168,"h":22},{"k":169,"h":18},{"k":170,"h":25},{"k":171,"h":8},{"k":172,"h":5},{"k":173,"h":8},{"k":174,"h":12},{"k":175,"h":14},{"k":176,"h":-38},{"k":177,"h":-25},{"k":178,"h":-12},{"k":179,"h":-28},{"k":180,"h":-42},{"k":181,"h":-68},{"k":182,"h":-70},{"k":183,"h":-65},{"k":184,"h":-60},{"k":185,"h":-100},{"k":186,"h":-125},{"k":187,"h":-155},{"k":188,"h":-110},{"k":189,"h":-65},{"k":190,"h":-25},{"k":191,"h":15},{"k":192,"h":25},{"k":193,"h":70},{"k":194,"h":110},{"k":195,"h":135},{"k":196,"h":165},{"k":197,"h":190},{"k":198,"h":225},{"k":199,"h":270},{"k":200,"h":290},{"k":201,"h":265},{"k":202,"h":250},{"k":203,"h":220},{"k":204,"h":215},{"k":205,"h":210},{"k":206,"h":180},{"k":207,"h":130},{"k":208,"h":120},{"k":209,"h":110},{"k":210,"h":100},{"k":211,"h":95},{"k":212,"h":85},{"k":213,"h":115},{"k":214,"h":120},{"k":215,"h":130},{"k":216,"h":150},{"k":217,"h":135},{"k":218,"h":125},{"k":219,"h":115},{"k":220,"h":70},{"k":221,"h":25},{"k":222,"h":5},{"k":223,"h":-20},{"k":224,"h":-35},{"k":225,"h":-40},{"k":226,"h":-60},{"k":227,"h":-30},{"k":228,"h":-20},{"k":229,"h":-5},{"k":230,"h":5},{"k":231,"h":12},{"k":232,"h":5},{"k":233,"h":-10},{"k":234,"h":-130},{"k":235,"h":-170},{"k":236,"h":-220},{"k":237,"h":-285},{"k":238,"h":-250},{"k":239,"h":-180},{"k":240,"h":-125},{"k":241,"h":-110},{"k":242,"h":-125},{"k":243,"h":-30},{"k":244,"h":-10},{"k":245,"h":-85},{"k":246,"h":-125},{"k":247,"h":-135},{"k":248,"h":-155},{"k":249,"h":-90},{"k":250,"h":-75},{"k":251,"h":-70},{"k":252,"h":-60},{"k":253,"h":-85},{"k":254,"h":-100},{"k":255,"h":-115},{"k":256,"h":-85},{"k":257,"h":-60},{"k":258,"h":-70},{"k":259,"h":-60},{"k":260,"h":-65},{"k":261,"h":-40},{"k":262,"h":-110},{"k":263,"h":-120},{"k":264,"h":-110},{"k":265,"h":-105},{"k":266,"h":-130},{"k":267,"h":-160},{"k":268,"h":-175},{"k":269,"h":-200},{"k":270,"h":-215},{"k":271,"h":-160},{"k":272,"h":-100},{"k":273,"h":-40},{"k":274,"h":95},{"k":275,"h":125},{"k":276,"h":145},{"k":277,"h":165},{"k":278,"h":180},{"k":279,"h":178},{"k":280,"h":170},{"k":281,"h":200},{"k":282,"h":175},{"k":283,"h":150},{"k":284,"h":100},{"k":285,"h":70},{"k":286,"h":25},{"k":287,"h":5},{"k":288,"h":-20},{"k":289,"h":-46}],
"months":[{"k":0,"t":"Jul"},{"k":22,"t":"Aug"},{"k":43,"t":"Sep"},{"k":64,"t":"Oct"},{"k":87,"t":"Nov"},{"k":106,"t":"Dec"},{"k":128,"t":"2026"},{"k":148,"t":"Feb"},{"k":167,"t":"Mar"},{"k":189,"t":"Apr"},{"k":210,"t":"May"},{"k":230,"t":"Jun"},{"k":251,"t":"Jul"},{"k":273,"t":"Aug"},{"k":294,"t":"Sep"}],
"priceGrid":[{"k":-6.75,"k2":302.1,"p":31500},{"k":-6.75,"k2":302.1,"p":30500},{"k":-6.75,"k2":302.1,"p":29500},{"k":-6.75,"k2":302.1,"p":28500},{"k":-6.75,"k2":302.1,"p":27500},{"k":-6.75,"k2":302.1,"p":26500},{"k":-6.75,"k2":302.1,"p":25500},{"k":-6.75,"k2":302.1,"p":24500},{"k":-6.75,"k2":302.1,"p":23500},{"k":-6.75,"k2":302.1,"p":22500},{"k":-6.75,"k2":302.1,"p":21500}],
"rsiGrid":[{"k":-6.75,"k2":302.1,"v":80},{"k":-6.75,"k2":302.1,"v":60},{"k":-6.75,"k2":302.1,"v":40}],
"macdGrid":[{"k":-6.75,"k2":302.1,"v":1000},{"k":-6.75,"k2":302.1,"v":500},{"k":-6.75,"k2":302.1,"v":-500}],
"rsiBand":[{"k":-6.75,"k2":302.1,"v":70,"v2":30}],
"rsiLevels":[{"k":-6.75,"k2":302.1,"v":70},{"k":-6.75,"k2":302.1,"v":30}],
"rsiMid":[{"k":-6.75,"k2":302.1,"v":50}],
"macdZero":[{"k":-6.75,"k2":302.1,"v":0}],
"frameLight":[{"k":-6.75,"k2":-6.75,"p":31893,"p2":14615},{"k":328.3,"k2":328.3,"p":31893,"p2":14615},{"k":-6.75,"k2":328.3,"p":31893,"p2":31893},{"k":-6.75,"k2":328.3,"p":14615,"p2":14615},{"k":-6.75,"k2":328.3,"p":20599,"p2":20599},{"k":-6.75,"k2":328.3,"p":17265,"p2":17265}],
"frameAxis":[{"k":302.1,"k2":302.1,"p":31893,"p2":14615},{"k":-6.75,"k2":328.3,"p":15074,"p2":15074}],
"drawings":[{"k":221.1,"k2":302.1,"p":30750,"p2":30750,"s":"red"},{"k":215,"k2":302.1,"p":29500,"p2":29500,"s":"red"},{"k":221.1,"k2":302.1,"p":31058,"p2":29216,"s":"red"},{"k":-6.75,"k2":302.1,"p":28200,"p2":28200,"s":"navy"},{"k":-6.75,"k2":302.1,"p":26180.18,"p2":26180.18,"s":"navy"},{"k":204.9,"k2":302.1,"p":29040,"p2":26479,"s":"navy"},{"k":-6.75,"k2":302.1,"p":22850,"p2":22850,"s":"royal"}],
"lastPrice":[{"k":-6.75,"k2":302.1,"p":29209.23}],
"tags":[{"k":302.1,"k2":326.8,"p":30889,"p2":30611,"m":30750,"x":305.3,"t":"30,750.00","s":"red"},{"k":302.1,"k2":326.8,"p":29639,"p2":29361,"m":29500,"x":305.3,"t":"29,500.00","s":"red"},{"k":302.1,"k2":326.8,"p":29348,"p2":29070,"m":29209.23,"x":305.3,"t":"29,209.23","s":"last"},{"k":302.1,"k2":326.8,"p":28339,"p2":28061,"m":28200,"x":305.3,"t":"28,200.00","s":"navy"},{"k":302.1,"k2":326.8,"p":26319,"p2":26041,"m":26180.18,"x":305.3,"t":"26,180.18","s":"navy"},{"k":302.1,"k2":326.8,"p":22989,"p2":22711,"m":22850,"x":305.3,"t":"22,850.00","s":"royal"}],
"texts":[{"k":-6.75,"p":32070,"t":"US_Markets_charts created with TradingView.com, Aug 25, 2026 21:03 UTC","s":"title"},{"k":-4.04,"p":31625,"t":"Nasdaq 100 Index · 1D · NASDAQ","s":"label"},{"k":-4.04,"p":31342,"t":"EMA","s":"label"},{"k":6.67,"p":31342,"t":"29,317.36","s":"ema"},{"k":-4.04,"p":31055,"t":"SMA","s":"label"},{"k":6.9,"p":31055,"t":"29,307.91","s":"sma50"},{"k":-4.04,"p":30775,"t":"SMA","s":"label"},{"k":6.9,"p":30775,"t":"26,862.74","s":"sma200"},{"k":-4.04,"p":20325,"t":"RSI","s":"label"},{"k":4.37,"p":20325,"t":"48.93","s":"rsi"},{"k":17.46,"p":20325,"t":"54.00","s":"rsima"},{"k":-4.04,"p":16988,"t":"MACD","s":"label"},{"k":9.95,"p":16988,"t":"−46.18","s":"hist"},{"k":24.9,"p":16988,"t":"69.97","s":"ema"},{"k":37.7,"p":16988,"t":"116.16","s":"signal"},{"k":306.3,"p":31614,"t":"point","s":"title"},{"k":293.9,"p":29165,"t":"D","s":"badge"}],
"pointBox":[{"k":303.3,"k2":326.8,"p":31814,"p2":31397}],
"badge":[{"k":295.2,"p":29165}],
"logoMark":[{"k":-1.2,"p":14106}],
"logoText":[{"k":6.1,"p":14106,"t":"TradingView"}]
},
"encoding":{"x":{"field":"k","type":"quantitative","scale":{"domain":[-6.75,302.1],"range":[20,1895],"nice":false,"zero":false,"padding":0},"axis":{"orient":"bottom","title":null,"values":[0,22,43,64,87,106,128,148,167,189,210,230,251,273,294],"labelExpr":"{0:'Jul',22:'Aug',43:'Sep',64:'Oct',87:'Nov',106:'Dec',128:'2026',148:'Feb',167:'Mar',189:'Apr',210:'May',230:'Jun',251:'Jul',273:'Aug',294:'Sep'}[datum.value]","grid":false,"ticks":false,"domain":false,"labelPadding":18,"labelFont":"Inter","labelFontSize":24,"labelColor":{"condition":{"test":"datum.value==128","value":"#4a4d56"},"value":"#6a6d78"},"labelFontWeight":{"condition":{"test":"datum.value==128","value":700},"value":400},"labelOverlap":false,"labelFlush":false}}},
"layer":[
{
"encoding":{"y":{"field":"p","type":"quantitative","scale":{"domain":[20599,31893],"range":[1407,53.6],"nice":false,"zero":false},"axis":{"orient":"right","title":null,"values":[30500,29500,28500,27500,26500,25500,24500,23500,22500,21500],"format":",.2f","grid":false,"ticks":false,"domain":false,"labelPadding":19,"labelFont":"Inter","labelFontSize":24,"labelColor":"#6a6d78","labelOverlap":false,"labelBaseline":"middle","labelFlush":false}}},
"layer":[
{"data":{"name":"months"},"mark":{"type":"rule","color":"#f3f5fa","strokeWidth":2},"encoding":{"y":{"datum":31893},"y2":{"datum":15074}}},
{"data":{"name":"priceGrid"},"mark":{"type":"rule","color":"#f3f5fa","strokeWidth":2},"encoding":{"x2":{"field":"k2"}}},
{"data":{"name":"frameLight"},"mark":{"type":"rule","color":"#eceef4","strokeWidth":2.4},"encoding":{"x2":{"field":"k2"},"y2":{"field":"p2"}}},
{"data":{"name":"frameAxis"},"mark":{"type":"rule","color":"#787b86","strokeWidth":2.4},"encoding":{"x2":{"field":"k2"},"y2":{"field":"p2"}}},
{"data":{"name":"lastPrice"},"mark":{"type":"rule","color":"#f23645","strokeWidth":1.5,"strokeDash":[2,6]},"encoding":{"x2":{"field":"k2"}}},
{"data":{"name":"sma200"},"mark":{"type":"line","color":"#673ab7","strokeWidth":4,"interpolate":"monotone"},"encoding":{}},
{"data":{"name":"sma50"},"mark":{"type":"line","color":"#089981","strokeWidth":4,"interpolate":"monotone"},"encoding":{}},
{"data":{"name":"ema"},"mark":{"type":"line","color":"#2962ff","strokeWidth":4.2,"strokeDash":[18,24],"strokeCap":"round"},"encoding":{}},
{"data":{"name":"candles"},"mark":{"type":"rule","strokeWidth":1.8},"encoding":{"y":{"field":"h","type":"quantitative"},"y2":{"field":"l"},"color":{"condition":{"test":"datum.c>=datum.o","value":"#26a69a"},"value":"#ef5350"}}},
{"data":{"name":"candles"},"mark":{"type":"bar","size":4.8,"strokeWidth":0.8},"encoding":{"y":{"field":"o","type":"quantitative"},"y2":{"field":"c"},"fill":{"condition":{"test":"datum.c>=datum.o","value":"#26a69a"},"value":"#ef5350"},"stroke":{"condition":{"test":"datum.c>=datum.o","value":"#26a69a"},"value":"#ef5350"}}},
{"data":{"name":"drawings"},"mark":{"type":"rule","strokeWidth":4,"strokeCap":"round"},"encoding":{"x2":{"field":"k2"},"y2":{"field":"p2"},"color":{"field":"s","type":"nominal","legend":null,"scale":{"domain":["red","navy","royal","last","title","label","ema","sma50","sma200","rsi","rsima","hist","signal","badge"],"range":["#f23645","#0c3299","#1848cc","#ef5350","#131722","#5d606b","#2962ff","#089981","#673ab7","#7e57c2","#fdd835","#ff5252","#ff6d00","#f57c00"]}}}},
{"data":{"name":"tags"},"mark":{"type":"rect","cornerRadiusTopRight":4,"cornerRadiusBottomRight":4},"encoding":{"x2":{"field":"k2"},"y2":{"field":"p2"},"color":{"field":"s","type":"nominal","legend":null}}},
{"data":{"name":"tags"},"mark":{"type":"text","color":"white","fontSize":24,"align":"left","baseline":"middle","dy":1.5},"encoding":{"x":{"field":"x","type":"quantitative"},"y":{"field":"m","type":"quantitative"},"text":{"field":"t"}}},
{"data":{"name":"pointBox"},"mark":{"type":"rect","fill":"white","stroke":"#f0f3fa","strokeWidth":2,"cornerRadius":6},"encoding":{"x2":{"field":"k2"},"y2":{"field":"p2"}}},
{"data":{"name":"badge"},"mark":{"type":"circle","size":855,"color":"#fff0dd","opacity":1},"encoding":{}}
]
},
{
"encoding":{"y":{"field":"v","type":"quantitative","scale":{"domain":[23.27,89.87],"range":[1806.4,1406.5],"nice":false,"zero":false},"axis":{"orient":"right","title":null,"values":[80,70,60,50,40,30],"format":".2f","grid":false,"ticks":false,"domain":false,"labelPadding":19,"labelFont":"Inter","labelFontSize":24,"labelColor":{"condition":{"test":"datum.value==50","value":"#4a4d56"},"value":"#6a6d78"},"labelFontWeight":{"condition":{"test":"datum.value==50","value":700},"value":400},"labelOverlap":false,"labelBaseline":"middle","labelFlush":false}}},
"layer":[
{"data":{"name":"rsiBand"},"mark":{"type":"rect","color":"#7e57c2","opacity":0.1},"encoding":{"x2":{"field":"k2"},"y2":{"field":"v2"}}},
{"data":{"name":"rsiGrid"},"mark":{"type":"rule","color":"#e6e4f2","strokeWidth":2},"encoding":{"x2":{"field":"k2"}}},
{"data":{"name":"rsiLevels"},"mark":{"type":"rule","color":"#787b86","strokeWidth":2,"strokeDash":[9,6]},"encoding":{"x2":{"field":"k2"}}},
{"data":{"name":"rsiMid"},"mark":{"type":"rule","color":"#a8a9b2","strokeWidth":2,"strokeDash":[9,6]},"encoding":{"x2":{"field":"k2"}}},
{"data":{"name":"rsi"},"transform":[{"filter":"datum.k>=210&&datum.k<=220"}],"mark":{"type":"area","color":{"x1":0,"y1":0,"x2":0,"y2":1,"gradient":"linear","stops":[{"offset":0,"color":"#a9d6ae"},{"offset":1,"color":"#ffffff"}]}},"encoding":{"y2":{"datum":70}}},
{"data":{"name":"rsi"},"transform":[{"filter":"datum.k>=225&&datum.k<=233"}],"mark":{"type":"area","color":{"x1":0,"y1":0,"x2":0,"y2":1,"gradient":"linear","stops":[{"offset":0,"color":"#a9d6ae"},{"offset":1,"color":"#ffffff"}]}},"encoding":{"y2":{"datum":70}}},
{"data":{"name":"rsi"},"mark":{"type":"line","color":"#7e57c2","strokeWidth":2},"encoding":{}},
{"data":{"name":"rsima"},"mark":{"type":"line","color":"#fdd835","strokeWidth":2},"encoding":{}}
]
},
{
"encoding":{"y":{"field":"v","type":"quantitative","scale":{"domain":[-613.7,1228.7],"range":[2069,1806.4],"nice":false,"zero":false},"axis":{"orient":"right","title":null,"values":[1000,500,0,-500],"format":",.2f","grid":false,"ticks":false,"domain":false,"labelPadding":19,"labelFont":"Inter","labelFontSize":24,"labelColor":"#6a6d78","labelOverlap":false,"labelBaseline":"middle","labelFlush":false}}},
"layer":[
{"data":{"name":"macdGrid"},"mark":{"type":"rule","color":"#f3f5fa","strokeWidth":2},"encoding":{"x2":{"field":"k2"}}},
{"data":{"name":"macdZero"},"mark":{"type":"rule","color":"#a8a9b2","strokeWidth":2,"strokeDash":[9,6]},"encoding":{"x2":{"field":"k2"}}},
{"data":{"name":"hist"},"transform":[{"window":[{"op":"lag","field":"h","param":1,"as":"prev"}],"sort":[{"field":"k"}]}],"mark":{"type":"bar","size":4},"encoding":{"y":{"field":"h","type":"quantitative"},"y2":{"datum":0},"color":{"condition":[{"test":"datum.h>=0&&datum.h>datum.prev","value":"#26a69a"},{"test":"datum.h>=0","value":"#b2dfdb"},{"test":"datum.h<datum.prev","value":"#ff5252"}],"value":"#ffcdd2"}}},
{"data":{"name":"macd"},"mark":{"type":"line","color":"#2962ff","strokeWidth":2},"encoding":{}},
{"data":{"name":"signal"},"mark":{"type":"line","color":"#ff6d00","strokeWidth":2},"encoding":{}}
]
},
{
"encoding":{"y":{"field":"p","type":"quantitative","scale":{"domain":[20599,31893],"range":[1407,53.6],"nice":false,"zero":false},"axis":null}},
"layer":[
{"data":{"name":"texts"},"mark":{"type":"text","fontSize":24,"align":"left","baseline":"middle","dy":1.5},"encoding":{"text":{"field":"t"},"color":{"field":"s","type":"nominal","legend":null}}},
{"data":{"name":"logoMark"},"mark":{"type":"point","filled":true,"color":"#131722","opacity":1,"size":3540,"shape":"M-1,-.486 H-.244 V.486 H-.644 V-.144 H-1 Z M.375,-.307 A.22,.22 0 1 1 -.065,-.307 A.22,.22 0 1 1 .375,-.307 Z M.6,-.486 H1 L.55,.486 H.1 Z"},"encoding":{}},
{"data":{"name":"logoText"},"mark":{"type":"text","font":"Inter","fontSize":39.5,"fontWeight":700,"color":"#131722","align":"left","baseline":"middle"},"encoding":{"text":{"field":"t"}}}
]
}
],
"resolve":{"scale":{"y":"independent"}}
}
